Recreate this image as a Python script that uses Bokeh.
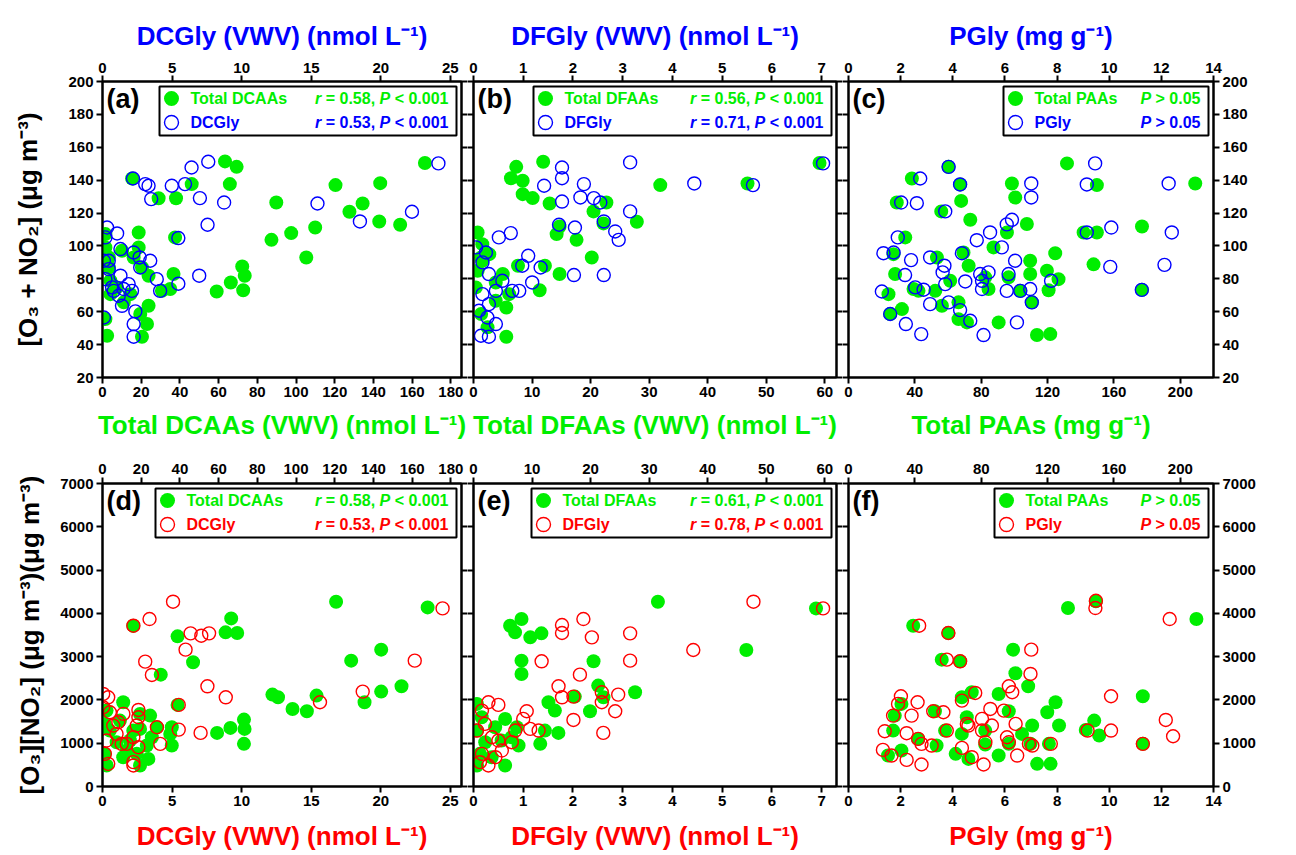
import math
from bokeh.plotting import figure
from bokeh.models import Range1d, LinearAxis, FixedTicker, BoxAnnotation, Label
from bokeh.layouts import column, row
from bokeh.embed import file_html
from bokeh.resources import INLINE

GREEN = "#00EE00"
BLUE = "#0000FF"
RED = "#FF0000"
FONT = "Liberation Sans"

# ---------------- data ----------------
# (a) O3+NO2 vs Total DCAAs (bottom axis) and DCGly (top axis)
a_dcaas = [166.6, 63.3, 69.3, 65.8, 15.3, 46.1, 29, 38, 89.8, 120.4, 143.5, 127.6, 134.4, 143, 153.8, 87.3, 97.5,
           109.9, 105.3, 72.2, 73.5, 66.3, 59, 72.7, 37.5, 18.7, 18.7, 36.7, 35, 30.7, 23.8, 23, 20.4, 2.4, 1.5, 1.5,
           1.5, 3.3, 3.3, 4.1, 7.5, 10.1, 16.1, 20.4, 23.8, 14.4, 11, 4.1, 19.5]
a_dcaas_y = [150.4, 151.4, 148.1, 137.6, 141, 137.6, 129, 129, 126.4, 137, 138.2, 120.8, 125.8, 114.9, 112.9, 103.7,
             107.8, 111.2, 93, 87.5, 81.9, 77.8, 72.3, 73.1, 105.2, 108.2, 99.1, 82.9, 73.8, 72.7, 63.6, 52.5, 44.8,
             45.4, 55.5, 107.2, 99.1, 93, 86.9, 78.8, 74.8, 97.1, 93, 86.9, 81.9, 70.7, 65.7, 70.7, 58.6]
a_dcgly = [24.14, 7.6, 6.4, 5.93, 2.19, 3.07, 3.31, 4.98, 3.5, 7.0, 8.74, 15.45, 22.24, 18.5, 7.55, 5.45, 0.33, 1.05,
           0.21, 1.29, 2.24, 2.67, 3.43, 2.71, 0.45, 0.45, 1.29, 3.9, 4.14, 5.45, 6.95, 0.21, 0.69, 1.52, 2.12, 1.17,
           1.4, 2.36, 2.24, 2.24, 0.1, 0.81, 0.1, 1.88]
a_dcgly_y = [150.2, 151.2, 147.7, 137.6, 141, 137.6, 136.6, 136.6, 128.5, 129.1, 126.4, 125.8, 120.8, 114.9, 112.9,
             104.8, 111.2, 107.6, 105.2, 98.1, 96, 93, 91, 86.9, 91, 85.9, 81.9, 79.8, 72.7, 77, 81.9, 79.8, 74.8,
             73.8, 72.7, 69.7, 63.6, 60.2, 52.5, 44.8, 56.5, 72.7, 91, 76.8]

# (b) O3+NO2 vs Total DFAAs and DFGly
b_dfaas = [59.1, 11.9, 7.3, 6.4, 8.4, 8.4, 10.1, 13, 31.9, 46.8, 20.5, 22.7, 22.2, 27.9, 14.7, 14.2, 17.6, 20.2, 7.6,
           12.2, 14.7, 11.3, 0.7, 1.5, 1.3, 2.7, 0.7, 5, 6.1, 3.8, 5.6, 1.3, 5.6, 2.4, 0.4, 3.8, 1.5]
b_dfaas_y = [150.4, 151.2, 148.1, 141.2, 139.6, 131.5, 129.1, 125.8, 137, 138, 121, 126.4, 113.7, 114.7, 111.8, 107.2,
             103.7, 93, 88, 88, 82.9, 73.1, 108.2, 101.1, 93, 95, 84.9, 82.9, 70.7, 66.7, 62.6, 58.6, 44.8, 50.5,
             74.8, 77.8, 91]
b_dfgly = [7.03, 3.15, 1.78, 1.78, 1.42, 2.22, 2.15, 2.42, 2.55, 1.78, 4.44, 5.62, 3.15, 2.62, 1.72, 2.04, 2.85, 2.92,
           0.75, 0.51, 1.1, 0.98, 1.35, 1.18, 2.02, 2.62, 0.25, 0.18, 0.31, 0.58, 0.92, 0.78, 0.45, 0.31, 0.11, 0.28,
           0.45, 0.15, 0.31, 0.05, 0.18]
b_dfgly_y = [150.2, 150.8, 147.7, 141.2, 136.6, 137.6, 129.5, 129.1, 126.4, 127, 138, 137, 121, 114.9, 112.9, 111.2,
             108.8, 103.7, 107.8, 105.2, 94, 88, 86.9, 77.8, 82.3, 82.3, 96, 90, 82.9, 78.8, 72.7, 72.7, 72.7, 64.6,
             60.6, 56.5, 52.5, 45.4, 44.8, 99.1, 70.7]

# (c) O3+NO2 vs Total PAAs and PGly
c_paas = [131.7, 209, 38.2, 60.3, 67.3, 29.1, 55.9, 67.9, 98.5, 100.5, 73.4, 107.5, 95.5, 141.7, 149.7, 176.9, 149.7,
          87.4, 34.2, 27.1, 28.1, 24.1, 25.1, 32.2, 39.2, 53.3, 69.3, 72.4, 61.3, 52.3, 56.3, 66.3, 66.3, 71.4, 82.4,
          84.4, 96.5, 109.5, 109.5, 103.5, 110.6, 124.6, 119.6, 126.6, 120.6, 90.5, 113.6, 121.6, 147.7, 176.9, 42.2]
c_paas_y = [150.2, 138, 141, 148.1, 137.4, 126.4, 121, 127.4, 138, 129.5, 115.9, 113.3, 108.2, 108.2, 108.2, 111.8,
            137, 99.1, 105.2, 95, 82.9, 70.7, 58.6, 61.6, 73.8, 93, 96, 88, 78.8, 72.7, 63.6, 65.7, 55.5, 53.5, 80.9,
            73.8, 80.9, 91, 82.9, 72.7, 65.7, 95.6, 84.9, 79.8, 73.1, 53.5, 45.8, 46.4, 88.8, 73.3, 72.7]
c_pgly = [9.46, 9.14, 12.28, 2.75, 3.84, 4.28, 2.02, 2.62, 3.71, 7.01, 7.01, 6.27, 6.07, 5.43, 4.92, 5.88, 9.14, 10.08,
          12.4, 12.12, 10.04, 6.39, 1.89, 1.34, 1.73, 2.4, 3.13, 3.68, 3.61, 4.35, 2.17, 3.71, 4.48, 5.05, 5.37, 5.12,
          5.12, 6.14, 6.07, 6.59, 6.97, 7.03, 7.77, 11.25, 1.28, 2.56, 2.88, 3.13, 3.84, 4.28, 4.67, 1.6, 2.2, 2.79,
          5.18, 6.46]
c_pgly_y = [150.2, 137.4, 138, 141, 148.1, 137.4, 126.4, 126, 121, 138, 129.5, 115.9, 113.1, 108.2, 103.5, 99.1,
            108.2, 111.2, 108.2, 88.5, 87.3, 91, 105.2, 95.6, 96, 91.4, 93, 88, 83.9, 95.6, 82.3, 76.8, 78.4, 82.9,
            83.9, 78.8, 73.8, 82.9, 72.7, 72.7, 73.8, 65.7, 78.8, 73.3, 72.3, 74.8, 73.4, 64.6, 65.7, 61, 54.5, 58.6,
            52.5, 46.4, 45.8, 53.5]

# (d) [O3][NO2] vs Total DCAAs (top axis) and DCGly (bottom axis)
d_dcaas = [168, 120.7, 66.5, 63.6, 69.6, 38.8, 15.9, 46.8, 30.1, 144, 128.5, 154.5, 144, 135.4, 87.8, 90.7, 98.2, 105.6,
           110.6, 73.1, 66.1, 73.4, 59.2, 73.1, 38.8, 35.8, 35.8, 10.7, 19.4, 24.6, 19.4, 23.7, 19.4, 2.1, 1.2, 2.1, 9,
           3.8, 14.2, 12.5, 25.5, 28.1, 22.9, 17.7, 7.3, 1.2, 35, 15.9, 10.7]
d_dcaas_y = [4138, 4269, 3884, 3561, 3546, 3469, 3715, 2869, 2584, 3161, 2907, 2315, 2192, 1946, 2123, 2061, 1792,
             1738, 2100, 1546, 1354, 1331, 1238, 985, 1885, 1369, 946, 1946, 1677, 1638, 1331, 638, 485, 485, 754,
             1754, 1523, 1292, 1062, 831, 1138, 1369, 946, 754, 1023, 1446, 1215, 1292, 677]
d_dcgly = [24.44, 5.07, 3.38, 2.22, 6.33, 7.1, 7.66, 5.97, 22.44, 3.07, 3.55, 7.54, 8.86, 18.7, 15.63, 5.48, 5.48, 7.05,
           4.15, 3.91, 0.05, 0.41, 0.53, 1.14, 1.5, 2.58, 2.58, 2.46, 1.01, 1.74, 2.22, 2.58, 2.22, 2.22, 0.17, 0.41,
           0.77, 0.29, 1.38, 0.05]
d_dcgly_y = [4115, 4269, 3869, 3715, 3538, 3484, 3538, 3161, 2907, 2884, 2577, 2315, 2061, 2192, 1946, 1885, 1315,
             1238, 985, 1369, 2138, 2061, 1715, 1485, 1677, 1769, 1600, 1408, 1215, 985, 1138, 908, 562, 485, 754, 523,
             1408, 1062, 985, 1831]

# (e) [O3][NO2] vs Total DFAAs and DFGly
e_dfaas = [58.5, 31.5, 46.6, 8.2, 6.25, 7.1, 9.7, 11.6, 8.2, 8.2, 20.5, 21.3, 22.2, 27.6, 17.3, 12.8, 13.9, 19.9, 14.5,
           11.4, 12.2, 7.7, 7.4, 5.4, 0.6, 1.4, 0.6, 3.7, 4.8, 1.1, 0.6, 3.1, 5.4, 6.5, 2]
e_dfaas_y = [4115, 4269, 3154, 3869, 3715, 3561, 3446, 3538, 2907, 2600, 2892, 2331, 2061, 2177, 2077, 1946, 1754,
             1738, 1238, 985, 1292, 946, 1369, 485, 1908, 1600, 1292, 1369, 1062, 754, 485, 677, 1562, 1138, 1023]
e_dfgly = [7.03, 5.63, 4.42, 2.21, 1.78, 1.78, 2.38, 3.15, 1.37, 3.15, 2.14, 1.71, 1.78, 2.01, 2.58, 2.91, 2.58, 2.85,
           2.01, 2.61, 1.07, 1.0, 0.5, 0.3, 1.14, 1.31, 0.84, 0.77, 0.5, 0.17, 0.23, 0.37, 0.17, 0.3, 0.13, 0.44, 0.07,
           0.57]
e_dfgly_y = [4115, 4269, 3154, 3869, 3731, 3546, 3446, 3538, 2892, 2907, 2584, 2315, 2061, 2077, 2177, 2123, 1946,
             1738, 1538, 1238, 1738, 1562, 1885, 1946, 1331, 1292, 1292, 1023, 1062, 1754, 1446, 1138, 754, 485, 562,
             677, 1292, 831]

# (f) [O3][NO2] vs Total PAAs and PGly
f_paas = [132.3, 209.7, 149.1, 39, 60.2, 56.2, 67.3, 99.2, 100.6, 108.3, 90.5, 177.4, 124.8, 119.8, 126.9, 110.7,
          148.1, 151.1, 143, 177.4, 113.7, 121.8, 90.5, 82.4, 96.6, 74.3, 68.3, 71.3, 68.3, 64.6, 72.3, 82.4, 52.1,
          27.9, 31.9, 26.9, 23.8, 31.9, 42, 53.1, 58.2, 104.6, 96.6, 120.8, 109.7]
f_paas_y = [4123, 3869, 4277, 3715, 3546, 2931, 2892, 3161, 2615, 2315, 2138, 2085, 1946, 1715, 1408, 1408, 1523,
            1177, 1308, 985, 523, 523, 715, 969, 1738, 2177, 2061, 1600, 1215, 754, 638, 1292, 1738, 1638, 1908, 1292,
            715, 831, 1100, 946, 1292, 1215, 985, 985, 985]
f_pgly = [9.49, 9.47, 12.32, 2.71, 3.83, 3.77, 4.28, 7.01, 6.98, 6.15, 6.28, 4.86, 4.35, 10.07, 2.01, 1.9, 2.65, 1.71,
          2.42, 3.25, 3.64, 5.44, 5.96, 5.12, 4.54, 3.77, 1.39, 2.23, 2.67, 3.19, 2.8, 1.32, 1.65, 2.23, 2.8, 4.35, 4.73,
          5.18, 5.25, 5.5, 6.41, 6.08, 6.15, 6.47, 6.92, 7.05, 7.76, 9.17, 10.07, 11.29, 12.17, 12.45, 5.12, 4.6]
f_pgly_y = [4292, 4123, 3869, 3715, 3546, 2931, 2892, 3161, 2600, 2315, 2177, 2161, 1985, 2085, 2085, 1908, 1946,
            1638, 1638, 1738, 1715, 1792, 1754, 1562, 1446, 1292, 1277, 1231, 1100, 946, 985, 846, 715, 615, 508, 892,
            677, 508, 1023, 1408, 1446, 1138, 1023, 715, 985, 946, 985, 1292, 1292, 985, 1538, 1161, 1292, 1408]

# axis ticks
dcaas_ticks = [0, 20, 40, 60, 80, 100, 120, 140, 160, 180]
dcgly_ticks = [0, 5, 10, 15, 20, 25]
dfaas_ticks = [0, 10, 20, 30, 40, 50, 60]
dfgly_ticks = [0, 1, 2, 3, 4, 5, 6, 7]
paas_ticks = [0, 40, 80, 120, 160, 200]
pgly_ticks = [0, 2, 4, 6, 8, 10, 12, 14]
sum_ticks = [20, 40, 60, 80, 100, 120, 140, 160, 180, 200]
prod_ticks = [0, 1000, 2000, 3000, 4000, 5000, 6000, 7000]

# ---------------- layout ----------------
FW = [359, 363, 365]
FH = [296, 303]
BL = [102, 5, 5]
BR = [5, 5, 79]
BT = [81, 38]
BB = [68, 64]

AW = {" ": 278, "=": 584, "<": 584, ">": 584, ",": 278, ".": 278, "r": 389, "P": 667}


def tw(s, size=16):
    return sum(AW.get(c, 556) for c in s) * size / 1000.0


def style_axis(ax, ticks, show_labels):
    ax.ticker = FixedTicker(ticks=ticks)
    ax.axis_line_width = 2
    ax.axis_line_color = "black"
    ax.major_tick_line_width = 2
    ax.major_tick_line_color = "black"
    ax.major_tick_in = 0
    ax.major_tick_out = 6
    ax.minor_tick_line_color = None
    ax.major_label_text_font = FONT
    ax.major_label_text_font_style = "bold"
    ax.major_label_text_font_size = "15px"
    ax.major_label_text_color = "black"
    ax.major_label_standoff = 3
    if not show_labels:
        ax.major_label_overrides = {t: "" for t in ticks}
        ax.major_label_standoff = 0


def set_title(ax, text, color, standoff):
    ax.axis_label = text
    ax.axis_label_text_font = FONT
    ax.axis_label_text_font_style = "bold"
    ax.axis_label_text_font_size = "26px"
    ax.axis_label_text_color = color
    ax.axis_label_standoff = standoff


def build(spec):
    r, c = spec["row"], spec["col"]
    top = r == 0
    W, H = FW[c], FH[r]
    y0, y1 = (20, 200) if top else (0, 7000)
    x1 = spec["main_end"]
    g1 = spec["gly_end"]
    p = figure(frame_width=W, frame_height=H, x_range=Range1d(0, x1), y_range=Range1d(y0, y1),
               x_axis_location=None, y_axis_location=None, output_backend="svg", toolbar_location=None,
               min_border_left=BL[c], min_border_right=BR[c], min_border_top=BT[r], min_border_bottom=BB[r],
               background_fill_color="white", border_fill_color="white",
               outline_line_color="black", outline_line_width=2)
    for g in p.grid:
        g.visible = False
    p.extra_x_ranges = {"gly": Range1d(0, g1)}
    gc = BLUE if top else RED

    # main (Total) axis
    ax_main = LinearAxis()
    style_axis(ax_main, spec["main_ticks"], True)
    if top:
        set_title(ax_main, spec["main_title"], GREEN, 10)
        p.add_layout(ax_main, "below")
    else:
        ax_main.major_label_standoff = 4
        p.add_layout(ax_main, "above")
    # Gly axis
    ax_g = LinearAxis(x_range_name="gly")
    style_axis(ax_g, spec["gly_ticks"], True)
    set_title(ax_g, spec["gly_title"], gc, 9 if top else 12)
    p.add_layout(ax_g, "above" if top else "below")
    # y axes
    yt = sum_ticks if top else prod_ticks
    ax_l = LinearAxis()
    style_axis(ax_l, yt, c == 0)
    if c == 0:
        set_title(ax_l, spec["ytitle"], "black", 22 if top else 12)
    p.add_layout(ax_l, "left")
    ax_r = LinearAxis()
    style_axis(ax_r, yt, c == 2)
    p.add_layout(ax_r, "right")

    def dx(px):
        return px * x1 / W

    def dy(py):
        return y1 - py * (y1 - y0) / H

    # data
    p.scatter(spec["main_x"], spec["main_y"], marker="circle", size=14, fill_color=GREEN, line_color=None)
    p.scatter(spec["gly_x"], spec["gly_y"], x_range_name="gly", marker="circle", size=13,
              fill_color=None, line_color=gc, line_width=1.4)

    # right-hand title for last column
    if c == 2:
        p.add_layout(Label(x=dx(W + (61 if top else 62)), y=dy(H / 2), text=spec["ytitle"], angle=math.pi / 2,
                           text_align="center", text_baseline="middle", text_font=FONT,
                           text_font_style="bold", text_font_size="26px", text_color="black"))

    # panel letter
    p.add_layout(Label(x=dx(4), y=dy(17), text="(" + spec["key"] + ")", text_align="left",
                       text_baseline="middle", text_font=FONT, text_font_style="bold",
                       text_font_size="27px", text_color="black"))

    # legend box
    bw = spec["box_w"]
    bl = W - 5 - bw
    box = BoxAnnotation(left=dx(bl), right=dx(W - 5), top=dy(5), bottom=dy(54),
                        fill_color="white", fill_alpha=1, line_color="black", line_alpha=1,
                        line_width=2, level="underlay")
    p.add_layout(box)
    rows_py = [17, 41]
    p.scatter([dx(bl + 12)], [dy(rows_py[0])], marker="circle", size=15, fill_color=GREEN, line_color=None)
    p.scatter([dx(bl + 12)], [dy(rows_py[1])], marker="circle", size=14, fill_color=None,
              line_color=gc, line_width=1.4)
    names = [(spec["main_name"], GREEN), (spec["gly_name"], gc)]
    stats = [spec["main_stat"], spec["gly_stat"]]
    for i in range(2):
        py = rows_py[i]
        p.add_layout(Label(x=dx(bl + 31), y=dy(py), text=names[i][0], text_align="left", text_baseline="middle",
                           text_font=FONT, text_font_style="bold", text_font_size="16px",
                           text_color=names[i][1]))
        rv = stats[i]
        if rv is None:
            segs = [("P", True), (" > 0.05", False)]
        else:
            segs = [("r", True), (" = " + rv + ", ", False), ("P", True), (" < 0.001", False)]
        total = sum(tw(s) for s, _ in segs)
        xstart = W - 5 - 8 - total
        cum = 0.0
        for s, it in segs:
            lead = len(s) - len(s.lstrip(" "))
            p.add_layout(Label(x=dx(xstart + cum + tw(" " * lead)), y=dy(py), text=s.strip(" "),
                               text_align="left", text_baseline="middle", text_font=FONT,
                               text_font_style="bold italic" if it else "bold", text_font_size="16px",
                               text_color=names[i][1]))
            cum += tw(s)
    return p


SUM_T = "[O\u2083 + NO\u2082] (\u03bcg m\u207b\u00b3)"
PROD_T = "[O\u2083][NO\u2082] (\u03bcg m\u207b\u00b3)(\u03bcg m\u207b\u00b3)"
LINV = " (nmol L\u207b\u00b9)"
MG = " (mg g\u207b\u00b9)"

specs = [
    dict(key="a", row=0, col=0, main_x=a_dcaas, main_y=a_dcaas_y, gly_x=a_dcgly, gly_y=a_dcgly_y,
         main_end=185.5, gly_end=25.8, main_ticks=dcaas_ticks, gly_ticks=dcgly_ticks,
         main_title="Total DCAAs (VWV)" + LINV, gly_title="DCGly (VWV)" + LINV, ytitle=SUM_T,
         main_name="Total DCAAs", gly_name="DCGly", main_stat="0.58", gly_stat="0.53", box_w=297),
    dict(key="b", row=0, col=1, main_x=b_dfaas, main_y=b_dfaas_y, gly_x=b_dfgly, gly_y=b_dfgly_y,
         main_end=62.0, gly_end=7.3, main_ticks=dfaas_ticks, gly_ticks=dfgly_ticks,
         main_title="Total DFAAs (VWV)" + LINV, gly_title="DFGly (VWV)" + LINV, ytitle=SUM_T,
         main_name="Total DFAAs", gly_name="DFGly", main_stat="0.56", gly_stat="0.71", box_w=298),
    dict(key="c", row=0, col=2, main_x=c_paas, main_y=c_paas_y, gly_x=c_pgly, gly_y=c_pgly_y,
         main_end=220.0, gly_end=14.0, main_ticks=paas_ticks, gly_ticks=pgly_ticks,
         main_title="Total PAAs" + MG, gly_title="PGly" + MG, ytitle=SUM_T,
         main_name="Total PAAs", gly_name="PGly", main_stat=None, gly_stat=None, box_w=205),
    dict(key="d", row=1, col=0, main_x=d_dcaas, main_y=d_dcaas_y, gly_x=d_dcgly, gly_y=d_dcgly_y,
         main_end=185.5, gly_end=25.8, main_ticks=dcaas_ticks, gly_ticks=dcgly_ticks,
         main_title=None, gly_title="DCGly (VWV)" + LINV, ytitle=PROD_T,
         main_name="Total DCAAs", gly_name="DCGly", main_stat="0.58", gly_stat="0.53", box_w=301),
    dict(key="e", row=1, col=1, main_x=e_dfaas, main_y=e_dfaas_y, gly_x=e_dfgly, gly_y=e_dfgly_y,
         main_end=62.0, gly_end=7.3, main_ticks=dfaas_ticks, gly_ticks=dfgly_ticks,
         main_title=None, gly_title="DFGly (VWV)" + LINV, ytitle=PROD_T,
         main_name="Total DFAAs", gly_name="DFGly", main_stat="0.61", gly_stat="0.78", box_w=300),
    dict(key="f", row=1, col=2, main_x=f_paas, main_y=f_paas_y, gly_x=f_pgly, gly_y=f_pgly_y,
         main_end=220.0, gly_end=14.0, main_ticks=paas_ticks, gly_ticks=pgly_ticks,
         main_title=None, gly_title="PGly" + MG, ytitle=PROD_T,
         main_name="Total PAAs", gly_name="PGly", main_stat=None, gly_stat=None, box_w=214),
]

figs = [build(s) for s in specs]
layout = column(row(*figs[:3]), row(*figs[3:]))
open("out.html", "w").write(file_html(layout, INLINE, title="Glycine vs O3 and NO2"))
